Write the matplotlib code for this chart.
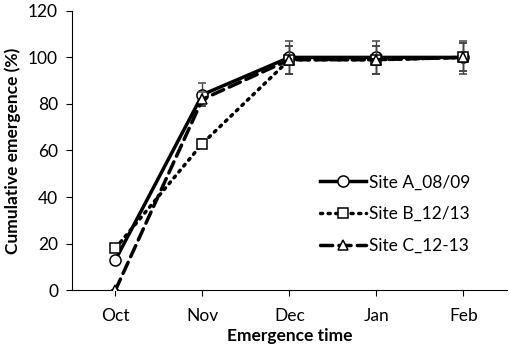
import matplotlib
matplotlib.use('Agg')
import matplotlib.pyplot as plt
import numpy as np
from matplotlib import rcParams
from matplotlib.lines import Line2D
rcParams['font.family'] = ['Lato', 'DejaVu Sans']
rcParams['font.size'] = 12.5

months = ['Oct', 'Nov', 'Dec', 'Jan', 'Feb']
site_a = [13, 84, 100, 100, 100]
site_b = [18, 63, 99, 99, 100]
site_c = [0, 82, 99, 99, 100]
err_a = [0, 5, 7, 7, 7]
err_b = [0, 2, 6, 6, 6]
err_c = [0, 3, 6, 6, 6]

x = np.arange(len(months))
fig = plt.figure(figsize=(5.1, 3.5), dpi=100)
ax = fig.add_axes([0.141, 0.171, 0.853, 0.798])

styles = [
    ('Site A_08/09', site_a, err_a, '-', 'o', 8, 2),
    ('Site B_12/13', site_b, err_b, (0, (0.6, 1.6)), 's', 6.5, 3),
    ('Site C_12-13', site_c, err_c, (0, (3.5, 1.8)), '^', 6.5, 4),
]
handles = []
for name, vals, err, ls, mk, ms, z in styles:
    ax.errorbar(x, vals, yerr=err, color='k', ls=ls, lw=2.5,
                dash_capstyle='round', marker=mk, ms=ms, mfc='white', mec='k', mew=1.1,
                ecolor='#444444', elinewidth=1, capsize=3, zorder=z)
    handles.append(Line2D([], [], color='k', ls=ls, lw=2.5, dash_capstyle='round',
                          marker=mk, ms=ms, mfc='white', mec='k', mew=1.1, label=name))

ax.set_xlim(-0.5, 4.5)
ax.set_ylim(0, 120)
ax.set_xticks(x)
ax.set_xticklabels(months)
ax.set_yticks(np.arange(0, 121, 20))
for s in ['top', 'right']:
    ax.spines[s].set_visible(False)
ax.tick_params(direction='out', length=4)
ax.tick_params(axis='x', pad=9)
ax.tick_params(axis='y', pad=6)
ax.set_xlabel('Emergence time', fontweight='bold', labelpad=3)
ax.set_ylabel('Cumulative emergence (%)', fontweight='bold', labelpad=5)

ax.legend(handles=handles, frameon=False, loc='center left',
          bbox_to_anchor=(0.57, 0.272), borderpad=0, borderaxespad=0,
          handlelength=2.65, labelspacing=0.9, handletextpad=0.2, fontsize=12.5)

fig.savefig('out.png', dpi=100)
